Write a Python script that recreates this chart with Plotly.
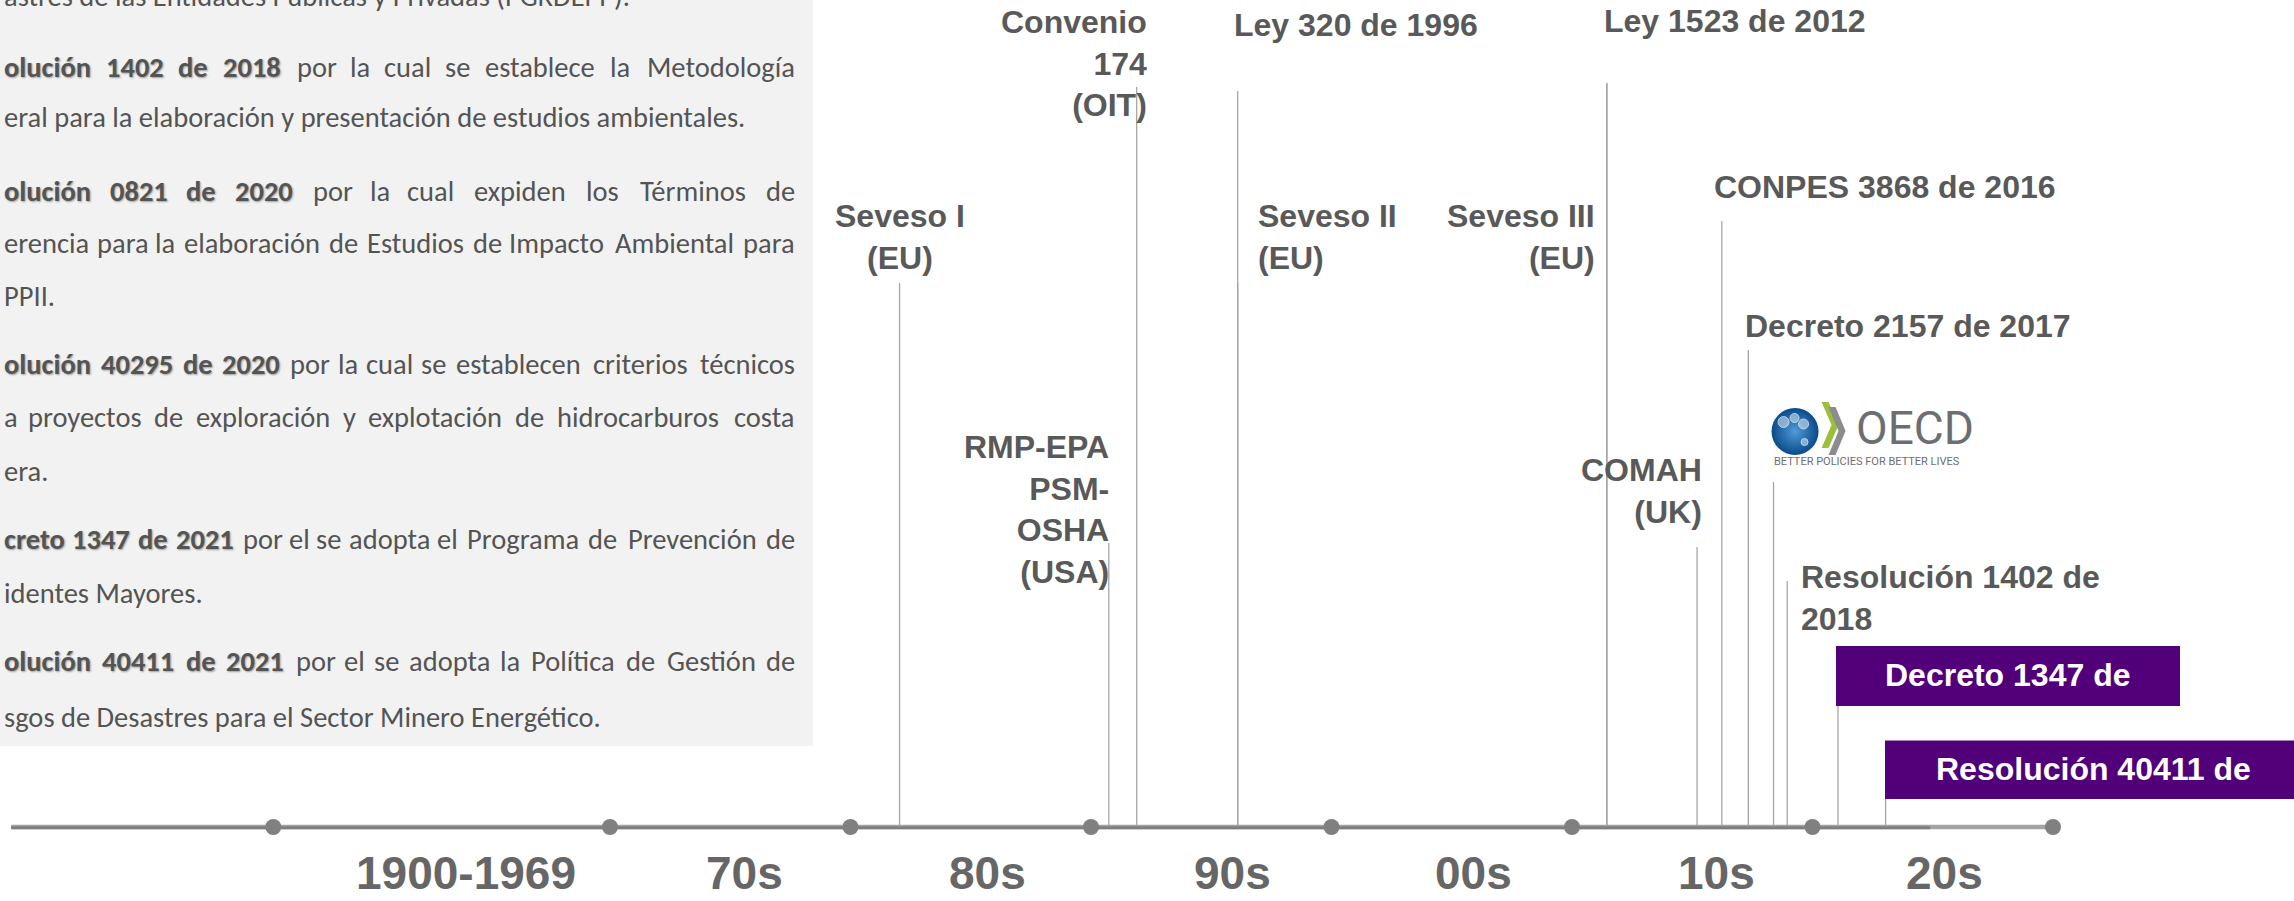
import plotly.graph_objects as go

W, H = 2294, 901

# ---------------- data ----------------
# timeline boundaries (the 1900-1969 span is compressed; its start dot sits at 1956 on the linear scale)
boundary_pos = [1956, 1970, 1980, 1990, 2000, 2010, 2020, 2030]
decade_labels = ["1900-1969", "70s", "80s", "90s", "00s", "10s", "20s"]
decade_label_pos = [1964.0, 1975.6, 1985.7, 1995.9, 2005.9, 2016.0, 2025.5]
timeline_start = 1945.1
timeline_dark_end = 2024.9

event_names = ["Seveso I (EU)", "RMP-EPA PSM-OSHA (USA)", "Convenio 174 (OIT)",
               "Ley 320 de 1996", "Seveso II (EU)", "Seveso III (EU)", "Ley 1523 de 2012",
               "COMAH (UK)", "CONPES 3868 de 2016", "Decreto 2157 de 2017", "OECD",
               "Resolución 1402 de 2018", "Decreto 1347 de 2021", "Resolución 40411 de 2021"]
event_pos = [1982.04, 1990.74, 1991.9, 1996.1, 1996.1, 2011.45, 2011.45,
             2015.2, 2016.23, 2017.33, 2018.38, 2018.95, 2021.06, 2023.04]
event_label_text = ["Seveso I<br>(EU)", "RMP-EPA<br>PSM-<br>OSHA<br>(USA)", "Convenio<br>174<br>(OIT)",
                    "Ley 320 de 1996", "Seveso II<br>(EU)", "Seveso III<br>(EU)", "Ley 1523 de 2012",
                    "COMAH<br>(UK)", "CONPES 3868 de 2016", "Decreto 2157 de 2017", "",
                    "Resolución 1402 de<br>2018", "Decreto 1347 de<br>2021", "Resolución 40411 de<br>2021"]
event_highlight = [False] * 12 + [True, True]

panel_lines = [
    "astres de las Entidades Públicas y Privadas (PGRDEPP).",
    "olución 1402 de 2018 por la cual se establece la Metodología",
    "eral para la elaboración y presentación de estudios ambientales.",
    "olución 0821 de 2020 por la cual expiden los Términos de",
    "erencia para la elaboración de Estudios de Impacto Ambiental para",
    "PPII.",
    "olución 40295 de 2020 por la cual se establecen criterios técnicos",
    "a proyectos de exploración y explotación de hidrocarburos costa",
    "era.",
    "creto 1347 de 2021 por el se adopta el Programa de Prevención de",
    "identes Mayores.",
    "olución 40411 de 2021 por el se adopta la Política de Gestión de",
    "sgos de Desastres para el Sector Minero Energético.",
]
panel_bold_words = [0, 4, 0, 4, 0, 0, 4, 0, 0, 4, 0, 4, 0]
panel_justified = [False, True, False, True, True, False, True, True, False, True, False, True, False]

# ---------------- layout / style ----------------
PX_PER_YR = 24.05
X_1970_PX = 610.0
x_lo = 1970 - X_1970_PX / PX_PER_YR
x_hi = x_lo + W / PX_PER_YR
AXIS_Y = 827

line_top = [283, 543, 87, 91, 283, 83, 83, 547, 221, 350, 482, 581, 706, 799]
label_anchor = ["center", "right", "right", "left", "left", "right", "left", "right",
                "left", "left", "left", "left", "center", "center"]
label_xshift = [0, 2, 12, -6, 18, -10, -5, 7, -10, -5, 0, 12, 170, 208]
label_y = [236.5, 509.8, 63, 25, 236.5, 236.5, 21, 491, 186.5, 326, 0, 598, 696, 790]
panel_line_y = [-3, 68, 118, 191, 243, 296, 364, 417, 471, 539, 593, 661, 717]

LABEL_FONT = "Liberation Sans, Arial, sans-serif"
LABEL_SIZE = 32
GRAY_TXT = "#595959"
PANEL_TXT = "#545454"
PURPLE = "#51007a"
PANEL_FONT = "Carlito, Calibri, Lato, sans-serif"
PANEL_SIZE = 28.5

fig = go.Figure()

# event connector lines
lx, ly = [], []
for p, t in zip(event_pos, line_top):
    lx += [p, p, None]
    ly += [t, AXIS_Y, None]
fig.add_trace(go.Scatter(x=lx, y=ly, mode="lines", line=dict(color="#a6a6a6", width=1.3),
                         hoverinfo="skip", showlegend=False))

# timeline axis (light full-length line with a darker core)
fig.add_trace(go.Scatter(x=[timeline_start, boundary_pos[-1]], y=[AXIS_Y, AXIS_Y], mode="lines",
                         line=dict(color="#a3a3a3", width=4.5), hoverinfo="skip", showlegend=False))
fig.add_trace(go.Scatter(x=[timeline_start, timeline_dark_end], y=[AXIS_Y + 0.8, AXIS_Y + 0.8], mode="lines",
                         line=dict(color="#7f7f7f", width=3), hoverinfo="skip", showlegend=False))
fig.add_trace(go.Scatter(x=boundary_pos, y=[AXIS_Y] * len(boundary_pos), mode="markers",
                         marker=dict(color="#808080", size=16), hoverinfo="skip", showlegend=False))

shapes = []
annotations = []

# left panel background
shapes.append(dict(type="rect", xref="paper", yref="paper", x0=0, x1=813 / W, y0=1 - 746 / H, y1=1,
                   fillcolor="#f2f2f2", line=dict(width=0), layer="below"))

# purple highlight boxes
box_specs = [(-2, 342, 646, 706), (-0.6, 500, 740.5, 799)]
for i, (a, b, y0, y1) in zip([12, 13], box_specs):
    shapes.append(dict(type="rect", xref="x", yref="y",
                       x0=event_pos[i] + a / PX_PER_YR, x1=event_pos[i] + b / PX_PER_YR,
                       y0=y0, y1=y1, fillcolor=PURPLE, line=dict(width=0)))

# event labels
for i, txt in enumerate(event_label_text):
    if not txt:
        continue
    hl = event_highlight[i]
    annotations.append(dict(
        x=event_pos[i], y=label_y[i], xref="x", yref="y", xshift=label_xshift[i],
        text=txt, showarrow=False, xanchor=label_anchor[i], yanchor="middle",
        align=label_anchor[i],
        font=dict(family=LABEL_FONT, size=LABEL_SIZE, color="white" if hl else GRAY_TXT, weight="bold")))

# decade labels
for lab, p in zip(decade_labels, decade_label_pos):
    annotations.append(dict(x=p, y=873, xref="x", yref="y", text=lab, showarrow=False,
                            xanchor="center", yanchor="middle",
                            font=dict(family=LABEL_FONT, size=46, color="#666666", weight="bold")))

# OECD logo (drawn with a marker, shapes and text)
oi = event_names.index("OECD")
ox = event_pos[oi]
fig.add_trace(go.Scatter(x=[ox + 21.5 / PX_PER_YR], y=[431.5], mode="markers",
                         marker=dict(size=47, color="#0b4a8b",
                                     gradient=dict(type="radial", color="#4f9bd6"),
                                     line=dict(width=0)),
                         hoverinfo="skip", showlegend=False))
fig.add_trace(go.Scatter(x=[ox + 10 / PX_PER_YR, ox + 21 / PX_PER_YR, ox + 30 / PX_PER_YR, ox + 31 / PX_PER_YR],
                         y=[422, 418, 424, 442], mode="markers",
                         marker=dict(size=[11, 9, 10, 7], color="rgba(215,232,247,0.8)"),
                         hoverinfo="skip", showlegend=False))


def chevron(x0px, ytop, ybot, color):
    ymid = (ytop + ybot) / 2
    pts = [(x0px, ytop), (x0px + 7, ytop), (x0px + 17, ymid), (x0px + 7, ybot), (x0px, ybot), (x0px + 10, ymid)]
    d = "M " + " L ".join(f"{ox + px / PX_PER_YR},{py}" for px, py in pts) + " Z"
    return dict(type="path", xref="x", yref="y", path=d, fillcolor=color, line=dict(width=0))


shapes.append(chevron(48, 402, 448, "#9cbf3b"))
shapes.append(chevron(55, 407, 455, "#8a8c8e"))
annotations.append(dict(x=ox, y=428, xref="x", yref="y", xshift=80, text="OECD", showarrow=False,
                        xanchor="left", yanchor="middle",
                        font=dict(family="Roboto, Liberation Sans, sans-serif", size=46, color="#6d6e71")))
annotations.append(dict(x=ox, y=461.5, xref="x", yref="y", xshift=-2,
                        text="BETTER POLICIES FOR BETTER LIVES", showarrow=False,
                        xanchor="left", yanchor="middle",
                        font=dict(family="Roboto, Liberation Sans, sans-serif", size=11, color="#6d6e71")))

# ---------------- left text panel (justified lines) ----------------
CW = {}
for c in "il.,:;'|!íì":
    CW[c] = 0.24
for c in "jI":
    CW[c] = 0.26
CW.update({"f": 0.32, "t": 0.34, "r": 0.36, "(": 0.3, ")": 0.3, "s": 0.42, "c": 0.46, "z": 0.45,
           "e": 0.52, "é": 0.52, "a": 0.5, "á": 0.5, "x": 0.48, "v": 0.5, "y": 0.5, "k": 0.5,
           "g": 0.5, "m": 0.84, "w": 0.76, " ": 0.2, "-": 0.34,
           "M": 0.86, "W": 0.9, "E": 0.58, "F": 0.56, "L": 0.52, "P": 0.6, "T": 0.57,
           "G": 0.72, "O": 0.76, "C": 0.68, "D": 0.74})
for c in "bdhnopquóúñ":
    CW[c] = 0.56
for c in "0123456789":
    CW[c] = 0.58


def est_w(word, bold):
    w = sum(CW.get(c, 0.66 if c.isupper() else 0.52) for c in word) * PANEL_SIZE
    return w * (0.98 if bold else 1.0)


L_PX, R_PX = 2, 797


def pfont(bold):
    f = dict(family=PANEL_FONT, size=PANEL_SIZE, color=PANEL_TXT)
    if bold:
        f["weight"] = "bold"
        f["shadow"] = "1px 1px 2px rgba(0,0,0,0.35)"
    return f


def add_text(xpx, ypx, text, anchor, bold):
    annotations.append(dict(x=xpx / W, y=1 - ypx / H, xref="paper", yref="paper", text=text,
                            showarrow=False, xanchor=anchor, yanchor="middle", font=pfont(bold)))


for line, nb, just, py in zip(panel_lines, panel_bold_words, panel_justified, panel_line_y):
    words = line.split(" ")
    if not just:
        add_text(L_PX, py, line, "left", False)
        continue
    ws = [est_w(w, i < nb) for i, w in enumerate(words)]
    gap = max((R_PX - L_PX - sum(ws)) / (len(words) - 1), 3)
    cur = L_PX
    for i, (w, wpx) in enumerate(zip(words, ws)):
        if i == 0:
            xa, xp = "left", cur
        elif i == len(words) - 1:
            xa, xp = "right", R_PX
        else:
            xa, xp = "center", cur + wpx / 2
        add_text(xp, py, w, xa, i < nb)
        cur += wpx + gap

fig.update_layout(
    width=W, height=H, margin=dict(l=0, r=0, t=0, b=0),
    paper_bgcolor="white", plot_bgcolor="white",
    xaxis=dict(range=[x_lo, x_hi], visible=False, fixedrange=True),
    yaxis=dict(range=[H, 0], visible=False, fixedrange=True),
    shapes=shapes, annotations=annotations, hovermode=False, showlegend=False,
)

fig.write_html("out.html", config={"displayModeBar": False},
               post_script="document.body.style.margin='0';document.body.style.overflow='hidden';")
